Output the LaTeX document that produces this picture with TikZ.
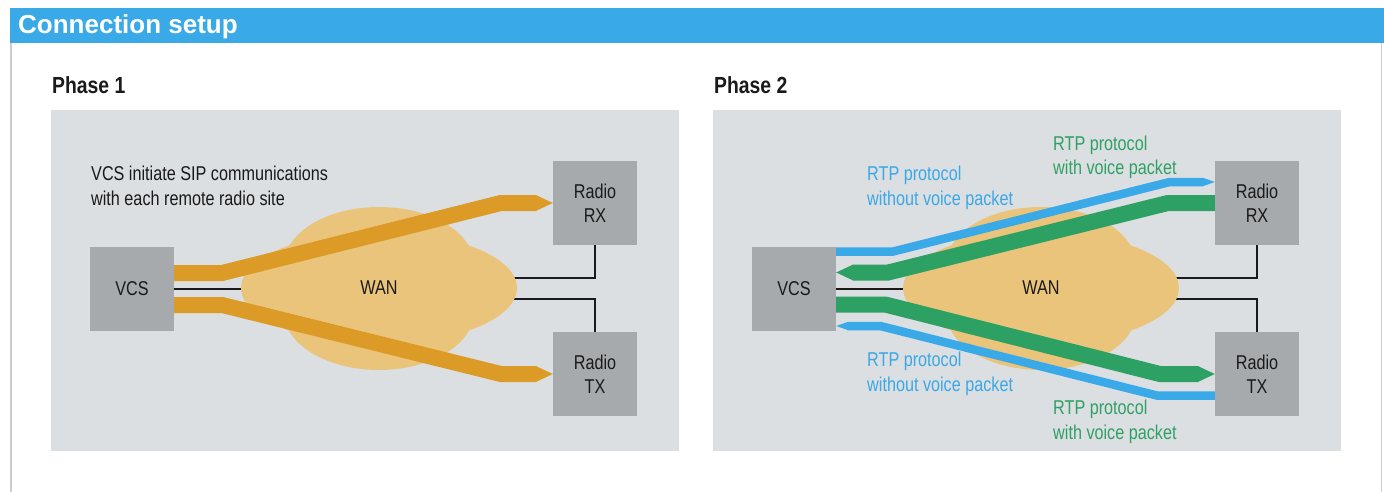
\documentclass[tikz,border=0pt]{standalone}
\usepackage{fontspec}
\setmainfont{Liberation Sans}
\newfontfamily\condfont[FakeStretch=0.81]{Liberation Sans}
\newfontfamily\phasefont[FakeStretch=0.83]{Liberation Sans}
\usetikzlibrary{calc}
\definecolor{hdrblue}{RGB}{57,169,232}
\definecolor{panelgray}{RGB}{220,223,226}
\definecolor{boxgray}{RGB}{167,170,173}
\definecolor{cloudcol}{RGB}{234,196,122}
\definecolor{pipeorange}{RGB}{220,155,38}
\definecolor{pipegreen}{RGB}{45,160,100}
\definecolor{pipeblue}{RGB}{57,169,232}
\definecolor{bordergray}{RGB}{205,205,205}
\definecolor{txtblack}{RGB}{26,26,26}
\definecolor{lblblue}{RGB}{58,168,230}
\definecolor{lblgreen}{RGB}{46,160,100}
\begin{document}
\begin{tikzpicture}[x=1pt,y=-1pt,
  box/.style={fill=boxgray, minimum width=84pt, minimum height=84pt, inner sep=0pt,
    font=\condfont\fontsize{20}{24}\selectfont, align=center, text=txtblack},
  wire/.style={line width=2.5pt, draw=txtblack},
  bodytext/.style={font=\condfont\fontsize{20}{24.5}\selectfont, align=left, inner sep=0pt, anchor=base west},
  phaselbl/.style={font=\phasefont\bfseries\fontsize{23.3}{28}\selectfont, text=txtblack, inner sep=0pt, anchor=base west},
  wanlbl/.style={font=\condfont\fontsize{20}{24}\selectfont, text=txtblack, inner sep=0pt},
  opipe/.style={draw=pipeorange, line width=16pt, line join=miter, line cap=butt},
  gpipe/.style={draw=pipegreen, line width=16pt, line join=miter, line cap=butt},
  bpipe/.style={draw=pipeblue, line width=8.5pt, line join=miter, line cap=butt},
  otip/.style={fill=pipeorange},
  gtip/.style={fill=pipegreen},
  btip/.style={fill=pipeblue},
  cloud/.style={fill=cloudcol}
]
\useasboundingbox (0,0) rectangle (1384,492);
\fill[white] (0,0) rectangle (1384,492);
% header
\fill[hdrblue] (10,8) rectangle (1384,43);
\node[font=\bfseries\fontsize{26}{30}\selectfont, text=white, inner sep=0pt, anchor=base west] (title) at (18,34) {Connection setup};
\draw[bordergray, line width=1.5pt] (10.75,43) -- (10.75,492);
\draw[bordergray, line width=1.5pt] (1381.5,43) -- (1381.5,492);
% panels
\fill[panelgray] (51,110) rectangle (679,451);
\fill[panelgray] (713,110) rectangle (1341,451);
\node[phaselbl] (ph1) at (52,94) {Phase 1};
\node[phaselbl] (ph2) at (714,94) {Phase 2};

% ---------------- Phase 1 ----------------
\node[box] (vcs) at (132,289) {VCS};
\node[box] (rx) at (595,203) {Radio\\RX};
\node[box] (tx) at (595,374) {Radio\\TX};
\coordinate (wan) at (379,288);
\draw[wire] (vcs.east) -- (vcs.east -| wan);
\draw[wire] (rx.south) |- ($(wan)+(0,-10)$);
\draw[wire] (tx.north) |- ($(wan)+(0,11)$);
\fill[cloud] (wan) ellipse [x radius=138pt, y radius=56pt];
\fill[cloud] ($(wan)+(0,-23)$) ellipse [x radius=95pt, y radius=58pt];
\fill[cloud] ($(wan)+(0,24)$) ellipse [x radius=95pt, y radius=58pt];
\node[wanlbl] (wanlabel) at (wan) {WAN};
% orange pipes
\draw[opipe] ($(vcs.east)+(0,-16)$) -- ++(48,0) -- ($(rx.west)+(-52,0)$) -- ($(rx.west)+(-16.5,0)$);
\fill[otip] ($(rx.west)+(-17,-8)$) -- (rx.west) -- ($(rx.west)+(-17,8)$) -- cycle;
\draw[opipe] ($(vcs.east)+(0,16)$) -- ++(48,0) -- ($(tx.west)+(-52,0)$) -- ($(tx.west)+(-16.5,0)$);
\fill[otip] ($(tx.west)+(-17,-8)$) -- (tx.west) -- ($(tx.west)+(-17,8)$) -- cycle;
\node[bodytext, text=txtblack] (note) at (91,205) {VCS initiate SIP communications\\with each remote radio site};

% ---------------- Phase 2 ----------------
\node[box] (vcsB) at (794,289) {VCS};
\node[box] (rxB) at (1257,203) {Radio\\RX};
\node[box] (txB) at (1257,374) {Radio\\TX};
\coordinate (wanB) at (1041,288);
\draw[wire] (vcsB.east) -- (vcsB.east -| wanB);
\draw[wire] (rxB.south) |- ($(wanB)+(0,-10)$);
\draw[wire] (txB.north) |- ($(wanB)+(0,11)$);
\fill[cloud] (wanB) ellipse [x radius=138pt, y radius=56pt];
\fill[cloud] ($(wanB)+(0,-23)$) ellipse [x radius=95pt, y radius=58pt];
\fill[cloud] ($(wanB)+(0,24)$) ellipse [x radius=95pt, y radius=58pt];
\node[wanlbl] (wanlabelB) at (wanB) {WAN};
% blue upper: VCS -> RX
\draw[bpipe] ($(vcsB.east)+(0,-37.5)$) -- ++(57,0) -- ($(rxB.west)+(-45,-21)$) -- ($(rxB.west)+(-11.5,-21)$);
\fill[btip] ($(rxB.west)+(-12,-25.25)$) -- ($(rxB.west)+(0,-21)$) -- ($(rxB.west)+(-12,-16.75)$) -- cycle;
% green upper: RX -> VCS
\draw[gpipe] (rxB.west) -- ++(-47,0) -- ($(vcsB.east)+(52,-16.5)$) -- ($(vcsB.east)+(16.5,-16.5)$);
\fill[gtip] ($(vcsB.east)+(17,-24.5)$) -- ($(vcsB.east)+(0,-16.5)$) -- ($(vcsB.east)+(17,-8.5)$) -- cycle;
% green lower: VCS -> TX
\draw[gpipe] ($(vcsB.east)+(0,15.5)$) -- ++(49,0) -- ($(txB.west)+(-55,0)$) -- ($(txB.west)+(-16.5,0)$);
\fill[gtip] ($(txB.west)+(-17,-8)$) -- (txB.west) -- ($(txB.west)+(-17,8)$) -- cycle;
% blue lower: TX -> VCS
\draw[bpipe] ($(txB.west)+(0,21.5)$) -- ++(-58,0) -- ($(vcsB.east)+(44,37)$) -- ($(vcsB.east)+(11.5,37)$);
\fill[btip] ($(vcsB.east)+(12,32.75)$) -- ($(vcsB.east)+(0,37)$) -- ($(vcsB.east)+(12,41.25)$) -- cycle;
% labels
\node[bodytext, text=lblblue] (lbu) at (867,205) {RTP protocol\\without voice packet};
\node[bodytext, text=lblgreen] (lgu) at (1053,175) {RTP protocol\\with voice packet};
\node[bodytext, text=lblblue] (lbl) at (867,391) {RTP protocol\\without voice packet};
\node[bodytext, text=lblgreen] (lgl) at (1053,439) {RTP protocol\\with voice packet};
\end{tikzpicture}
\end{document}
